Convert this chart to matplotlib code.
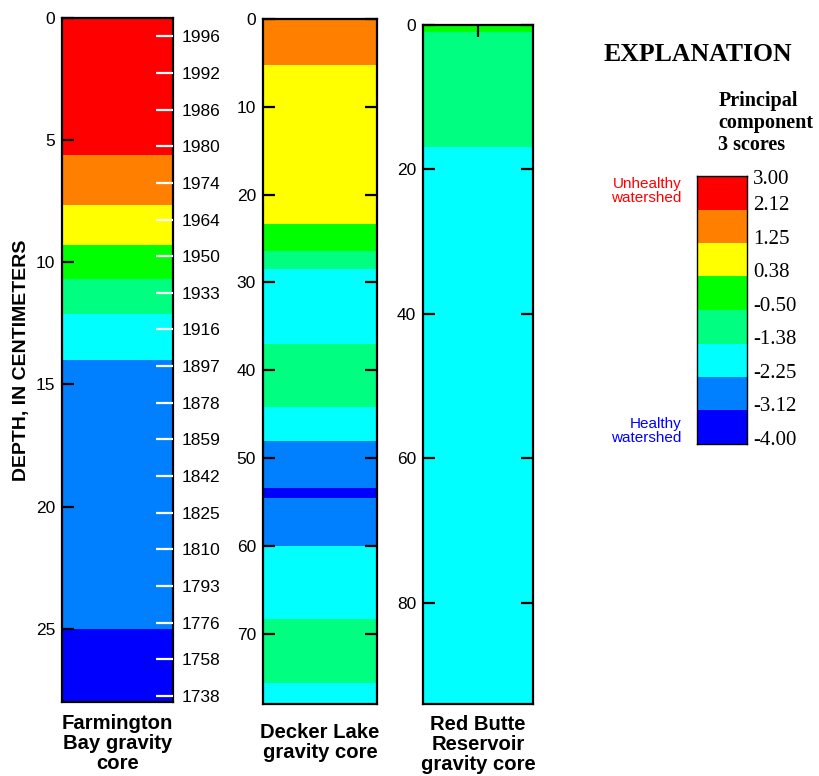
import matplotlib
matplotlib.use('Agg')
import matplotlib.pyplot as plt

plt.rcParams['font.family'] = ['Liberation Sans', 'DejaVu Sans']

# score classes, top (unhealthy) to bottom (healthy)
class_colors = ['#ff0000', '#ff8000', '#ffff00', '#00ff00',
                '#00ff80', '#00ffff', '#0080ff', '#0000ff']
score_levels = [3.00, 2.12, 1.25, 0.38, -0.50, -1.38, -2.25, -3.12, -4.00]

# Farmington Bay core: layer boundaries (cm) and class of each layer
farm_bounds = [0, 5.6, 7.65, 9.3, 10.7, 12.1, 14.0, 25.0, 28.0]
farm_class = [0, 1, 2, 3, 4, 5, 6, 7]
farm_year_depth = [0.75, 2.25, 3.75, 5.25, 6.75, 8.25, 9.75, 11.25, 12.75,
                   14.25, 15.75, 17.25, 18.75, 20.25, 21.75, 23.25, 24.75,
                   26.25, 27.75]
farm_years = ['1996', '1992', '1986', '1980', '1974', '1964', '1950', '1933',
              '1916', '1897', '1878', '1859', '1842', '1825', '1810', '1793',
              '1776', '1758', '1738']

# Decker Lake core
deck_bounds = [0, 5.2, 23.3, 26.4, 28.5, 37.0, 44.2, 48.0, 53.4, 54.5,
               60.0, 68.3, 75.6, 78.0]
deck_class = [1, 2, 3, 4, 5, 4, 5, 6, 7, 6, 5, 4, 5]

# Red Butte Reservoir core
rb_bounds = [0, 1.0, 16.9, 94.0]
rb_class = [3, 4, 5]

fig = plt.figure(figsize=(8.2, 7.76), dpi=100)


def draw_core(rect, bounds, classes, ticks, label, pad):
    ax = fig.add_axes(rect)
    for i in range(len(classes)):
        ax.bar(0.5, bounds[i + 1] - bounds[i], bottom=bounds[i], width=1.0,
               color=class_colors[classes[i]], linewidth=0)
    ax.set_xlim(0, 1)
    ax.set_ylim(bounds[-1], 0)
    ax.set_yticks(ticks)
    ax.tick_params(axis='y', direction='in', left=True, right=True,
                   length=8.5, width=1.6, labelsize=12.5, pad=5)
    ax.set_xticks([])
    for s in ax.spines.values():
        s.set_linewidth(1.6)
    ax.set_xlabel(label, fontsize=14.6, fontweight='bold', labelpad=pad,
                  linespacing=1.05)
    return ax


ax1 = draw_core([0.0756, 0.0954, 0.1354, 0.8814], farm_bounds, farm_class,
                [0, 5, 10, 15, 20, 25], 'Farmington\nBay gravity\ncore', 9)
ax1.set_ylabel('DEPTH, IN CENTIMETERS', fontsize=14, fontweight='bold',
               labelpad=4)
ax1b = ax1.twinx()
ax1b.set_ylim(farm_bounds[-1], 0)
ax1b.set_yticks(farm_year_depth)
ax1b.set_yticklabels(farm_years)
ax1b.tick_params(axis='y', direction='in', length=12, width=1.6,
                 color='white', labelsize=12.5, pad=6)
for s in ax1b.spines.values():
    s.set_visible(False)

ax2 = draw_core([0.3207, 0.0928, 0.139, 0.8827], deck_bounds, deck_class,
                [0, 10, 20, 30, 40, 50, 60, 70], 'Decker Lake\ngravity core', 14)

ax3 = draw_core([0.5159, 0.0928, 0.1341, 0.875], rb_bounds, rb_class,
                [0, 20, 40, 60, 80], 'Red Butte\nReservoir\ngravity core', 8)
ax3.set_xticks([0.5])
ax3.tick_params(axis='x', top=True, bottom=False, labeltop=False,
                labelbottom=False, direction='in', length=8.5, width=1.6)

# explanation / legend
fig.text(0.851, 0.930, 'EXPLANATION', family='Liberation Serif',
         fontsize=18.5, fontweight='bold', ha='center', va='center')
fig.text(0.876, 0.883, 'Principal\ncomponent\n3 scores',
         family='Liberation Serif', fontsize=14.5, fontweight='bold',
         ha='left', va='top', linespacing=1.15)

axl = fig.add_axes([0.85, 0.4278, 0.061, 0.3454])
for i in range(len(class_colors)):
    axl.bar(0.5, score_levels[i] - score_levels[i + 1],
            bottom=score_levels[i + 1], width=1.0, color=class_colors[i],
            linewidth=0)
axl.set_xlim(0, 1)
axl.set_ylim(score_levels[-1], score_levels[0])
axl.set_xticks([])
axl.set_yticks([])
for s in axl.spines.values():
    s.set_linewidth(1.0)
for v in score_levels:
    off = -0.1 if v == score_levels[0] else 0.1
    axl.text(1.12, v + off, '%.2f' % v, transform=axl.get_yaxis_transform(),
             family='Liberation Serif', fontsize=15, ha='left', va='center')
fig.text(0.831, 0.754, 'Unhealthy\nwatershed', color='#ff0000', fontsize=11,
         ha='right', va='center', linespacing=1.0)
fig.text(0.831, 0.444, 'Healthy\nwatershed', color='#0000ff', fontsize=11,
         ha='right', va='center', linespacing=1.0)

fig.savefig('out.png', dpi=100)
